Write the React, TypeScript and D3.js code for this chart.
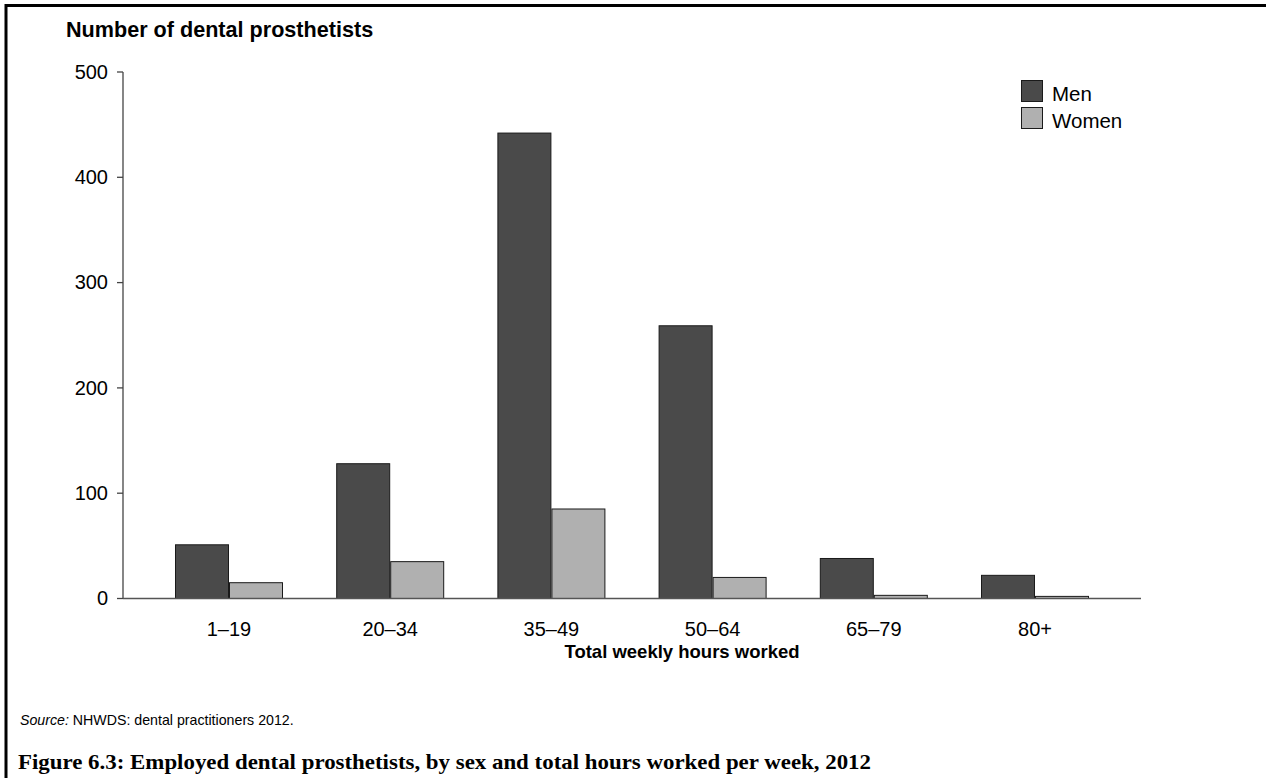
import React from "react";
import * as d3 from "d3";

const categories = ["1–19", "20–34", "35–49", "50–64", "65–79", "80+"];
const seriesNames = ["Men", "Women"];
const menValues = [51, 128, 442, 259, 38, 22];
const womenValues = [15, 35, 85, 20, 3, 2];
const yTicks = [0, 100, 200, 300, 400, 500];
const colors = ["#4a4a4a", "#b0b0b0"];

const W = 1266;
const H = 778;
const SANS = "'Liberation Sans', Arial, sans-serif";
const SERIF = "'Liberation Serif', 'DejaVu Serif', serif";

export default function App() {
  const axisX = 123;
  const axisRight = 1141;
  const y = d3.scaleLinear().domain([0, 500]).range([598.5, 72]);
  const x = d3
    .scaleBand<string>()
    .domain(categories)
    .range([148.4, 1115.6])
    .paddingInner(0.33)
    .paddingOuter(0.165);
  const sub = d3.scaleBand<string>().domain(seriesNames).range([0, x.bandwidth()]);
  const values = [menValues, womenValues];

  return (
    <svg
      width={W}
      height={H}
      style={{ position: "absolute", left: 0, top: 0, display: "block", background: "#fff" }}
    >
      {/* frame */}
      <line x1={6} y1={5.5} x2={W} y2={5.5} stroke="#000" strokeWidth={3} />
      <line x1={6} y1={4} x2={6} y2={H} stroke="#000" strokeWidth={3} />

      {/* y title */}
      <text x={66} y={37} fontFamily={SANS} fontWeight="bold" fontSize={21.6} fill="#000">
        Number of dental prosthetists
      </text>

      {/* bars */}
      {categories.map((c, i) => (
        <g key={c}>
          {seriesNames.map((s, j) => {
            const v = values[j][i];
            const bx = (x(c) ?? 0) + (sub(s) ?? 0);
            return (
              <rect
                key={s}
                x={bx + 0.5}
                y={y(v)}
                width={sub.bandwidth() - 1}
                height={y(0) - y(v)}
                fill={colors[j]}
                stroke="#1a1a1a"
                strokeWidth={1}
              />
            );
          })}
        </g>
      ))}

      {/* y axis */}
      <line x1={axisX} y1={y(500)} x2={axisX} y2={y(0)} stroke="#444" strokeWidth={1.3} />
      {yTicks.map((t) => (
        <g key={t}>
          <line x1={axisX - 6} y1={y(t)} x2={axisX} y2={y(t)} stroke="#444" strokeWidth={1.3} />
          <text
            x={108}
            y={y(t)}
            dy="0.33em"
            textAnchor="end"
            fontFamily={SANS}
            fontSize={20}
            fill="#000"
          >
            {t}
          </text>
        </g>
      ))}

      {/* x axis */}
      <line x1={axisX} y1={y(0)} x2={axisRight} y2={y(0)} stroke="#555" strokeWidth={1.3} />
      {categories.map((c) => (
        <text
          key={c}
          x={(x(c) ?? 0) + x.bandwidth() / 2}
          y={636}
          textAnchor="middle"
          fontFamily={SANS}
          fontSize={20}
          fill="#000"
        >
          {c}
        </text>
      ))}
      <text x={682} y={658} textAnchor="middle" fontFamily={SANS} fontWeight="bold" fontSize={18.5} fill="#000">
        Total weekly hours worked
      </text>

      {/* legend */}
      {seriesNames.map((s, j) => (
        <g key={s} transform={`translate(1021, ${80 + j * 27})`}>
          <rect x={0.5} y={0.5} width={21} height={21} fill={colors[j]} stroke="#1a1a1a" strokeWidth={1} />
          <text x={31} y={21} fontFamily={SANS} fontSize={20.5} fill="#000">
            {s}
          </text>
        </g>
      ))}

      {/* source */}
      <text x={20} y={725} fontFamily={SANS} fontSize={14.2} fill="#000">
        <tspan fontStyle="italic">Source:</tspan>
        <tspan> NHWDS: dental practitioners 2012.</tspan>
      </text>

      {/* figure caption */}
      <text x={18} y={769} fontFamily={SERIF} fontWeight="bold" fontSize={22} fill="#000" textLength={853} lengthAdjust="spacingAndGlyphs">
        Figure 6.3: Employed dental prosthetists, by sex and total hours worked per week, 2012
      </text>
    </svg>
  );
}
